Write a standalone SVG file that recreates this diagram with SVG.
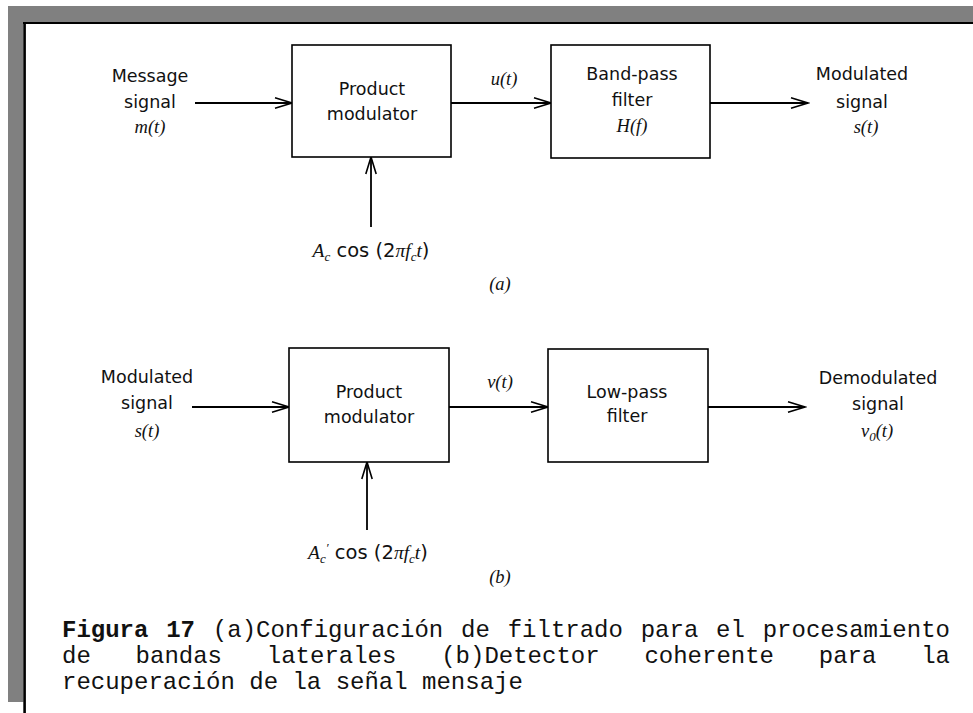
<svg xmlns="http://www.w3.org/2000/svg" width="973" height="713" viewBox="0 0 973 713">
<style>
.box{fill:#fff;stroke:#000;stroke-width:1.6}
.ln{fill:none;stroke:#000;stroke-width:1.8}
.t{font-family:"DejaVu Sans","Open Sans",sans-serif;font-size:17.5px;fill:#111;text-anchor:middle}
.i{font-family:"Liberation Serif","DejaVu Serif",serif;font-style:italic;font-size:18.5px;fill:#111}
.sub{font-family:"Liberation Serif","DejaVu Serif",serif;font-style:italic;font-size:13px}
.big{font-size:19.5px}
.cap{font-family:"Liberation Mono","Courier New",monospace;font-size:24px;fill:#111}
</style>
<defs>
<marker id="arr" markerWidth="20" markerHeight="14" refX="18" refY="6" orient="auto" markerUnits="userSpaceOnUse">
<path d="M1,0.8 L18,6 L1,11.2" fill="none" stroke="#000" stroke-width="1.6"/>
</marker>
</defs>
<rect width="973" height="713" fill="#fff"/>
<g id="frame">
<rect x="8" y="6" width="965" height="16.5" fill="#808080"/>
<rect x="8" y="6" width="15.5" height="696" fill="#808080"/>
<line x1="23" y1="23" x2="973" y2="23" stroke="#000" stroke-width="2.2"/>
<line x1="24.6" y1="22" x2="24.6" y2="713" stroke="#000" stroke-width="2.6"/>
</g>
<g id="connectors">
<line class="ln" x1="195" y1="103" x2="292" y2="103" marker-end="url(#arr)"/>
<line class="ln" x1="451" y1="103" x2="551" y2="103" marker-end="url(#arr)"/>
<line class="ln" x1="710" y1="103" x2="808" y2="103" marker-end="url(#arr)"/>
<line class="ln" x1="371" y1="227" x2="371" y2="157" marker-end="url(#arr)"/>
<line class="ln" x1="192" y1="407" x2="289" y2="407" marker-end="url(#arr)"/>
<line class="ln" x1="449" y1="407" x2="548" y2="407" marker-end="url(#arr)"/>
<line class="ln" x1="708" y1="407" x2="805" y2="407" marker-end="url(#arr)"/>
<line class="ln" x1="367" y1="530" x2="367" y2="462" marker-end="url(#arr)"/>
</g>
<g id="in-a">
<text class="t" x="150" y="82">Message</text>
<text class="t" x="150" y="108">signal</text>
<text class="i" x="150" y="133" text-anchor="middle">m(t)</text>
</g>
<g id="prod-a">
<rect class="box" x="292" y="45" width="159" height="112"/>
<text class="t" x="372" y="95">Product</text>
<text class="t" x="372" y="120">modulator</text>
</g>
<text class="i" x="504" y="85" text-anchor="middle">u(t)</text>
<g id="bpf">
<rect class="box" x="551" y="45" width="159" height="113"/>
<text class="t" x="632" y="80">Band-pass</text>
<text class="t" x="632" y="106">filter</text>
<text class="i" x="632" y="132" text-anchor="middle">H(f)</text>
</g>
<g id="out-a">
<text class="t" x="862" y="80">Modulated</text>
<text class="t" x="862" y="108">signal</text>
<text class="i" x="866" y="133" text-anchor="middle">s(t)</text>
</g>
<g id="carrier-a">
<text x="371" y="257" text-anchor="middle" class="t big"><tspan class="i big">A</tspan><tspan class="sub" dy="4">c</tspan><tspan dy="-4"> cos (2</tspan><tspan class="i big">πf</tspan><tspan class="sub" dy="4">c</tspan><tspan class="i big" dy="-4">t</tspan>)</text>
</g>
<text class="i" x="500" y="290" text-anchor="middle">(a)</text>
<g id="in-b">
<text class="t" x="147" y="383">Modulated</text>
<text class="t" x="147" y="409">signal</text>
<text class="i" x="147" y="437" text-anchor="middle">s(t)</text>
</g>
<g id="prod-b">
<rect class="box" x="289" y="348" width="160" height="114"/>
<text class="t" x="369" y="398">Product</text>
<text class="t" x="369" y="423">modulator</text>
</g>
<text class="i" x="500" y="388" text-anchor="middle">v(t)</text>
<g id="lpf">
<rect class="box" x="548" y="349" width="160" height="113"/>
<text class="t" x="627" y="398">Low-pass</text>
<text class="t" x="627" y="422">filter</text>
</g>
<g id="out-b">
<text class="t" x="878" y="384">Demodulated</text>
<text class="t" x="878" y="410">signal</text>
<text x="877" y="437" text-anchor="middle" class="i"><tspan>v</tspan><tspan class="sub" dy="4">0</tspan><tspan dy="-4">(t)</tspan></text>
</g>
<g id="carrier-b">
<text x="368" y="559" text-anchor="middle" class="t big"><tspan class="i big">A</tspan><tspan class="sub" dy="4">c</tspan><tspan class="sub" dy="-11">′</tspan><tspan dy="7"> cos (2</tspan><tspan class="i big">πf</tspan><tspan class="sub" dy="4">c</tspan><tspan class="i big" dy="-4">t</tspan>)</text>
</g>
<text class="i" x="500" y="583" text-anchor="middle">(b)</text>
<g id="caption">
<text class="cap" x="62" y="637" word-spacing="3.4"><tspan font-weight="bold">Figura 17</tspan> (a)Configuración de filtrado para el procesamiento</text>
<text class="cap" y="663"><tspan x="62">de</tspan><tspan x="135.6">bandas</tspan><tspan x="266.8">laterales</tspan><tspan x="441.2">(b)Detector</tspan><tspan x="644.4">coherente</tspan><tspan x="818.8">para</tspan><tspan x="921.2">la</tspan></text>
<text class="cap" x="62" y="689">recuperación de la señal mensaje</text>
</g>
</svg>
